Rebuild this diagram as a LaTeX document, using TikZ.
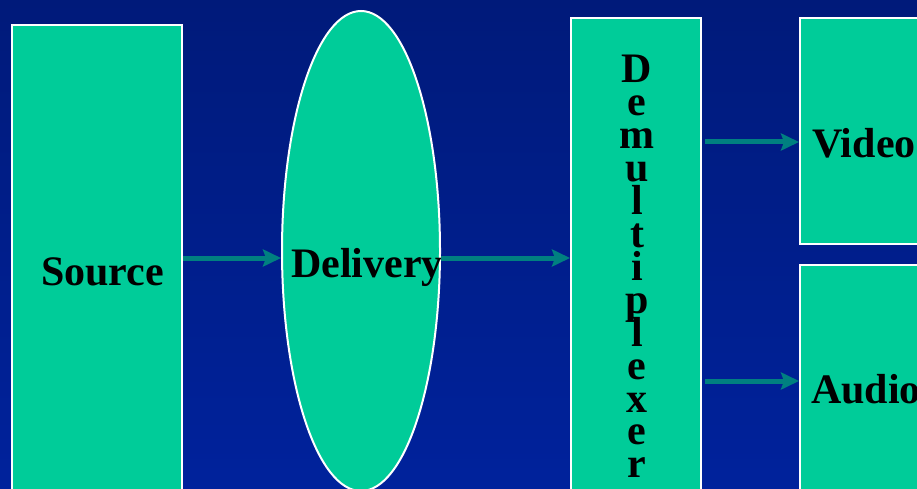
\documentclass[tikz,border=0pt]{standalone}
\usepackage{fontspec}
\setmainfont{Liberation Serif}
\usetikzlibrary{shapes.geometric,arrows.meta}
\definecolor{bgtop}{HTML}{001A7A}
\definecolor{bgbot}{HTML}{00229C}
\definecolor{boxgreen}{HTML}{00CC99}
\definecolor{arrteal}{HTML}{008080}
\tikzset{
  blockbox/.style={draw=white, line width=2pt, fill=boxgreen, rectangle, inner sep=0pt},
  lbl/.style={font=\fontsize{42}{33}\selectfont\bfseries, text=black, inner sep=0pt, anchor=base west},
  vlet/.style={font=\fontsize{42}{33}\selectfont\bfseries, text=black, inner sep=0pt, anchor=base},
  arr/.style={draw=arrteal, line width=5pt, -{Stealth[length=18pt,width=17pt,inset=3pt]}}
}
\begin{document}
\begin{tikzpicture}[x=1pt,y=-1pt]
\useasboundingbox (0,0) rectangle (917,489);
\clip (0,0) rectangle (917,489);
\shade[top color=bgtop, bottom color=bgbot] (0,0) rectangle (917,489);
% blocks
\node[blockbox, minimum width=170pt, minimum height=515pt] (src) at (97,282.5) {};
\node[draw=white, line width=2pt, fill=boxgreen, ellipse, inner sep=0pt, minimum width=158pt, minimum height=480pt] (del) at (361,251) {};
\node[blockbox, minimum width=130pt, minimum height=502pt] (dmx) at (636,269) {};
\node[blockbox, minimum width=140pt, minimum height=226pt] (vid) at (870,131) {};
\node[blockbox, minimum width=140pt, minimum height=255pt] (aud) at (870,392.5) {};
% labels
\node[lbl] (srct) at (41,285) {Source};
\node[lbl] (delt) at (291,277) {Delivery};
\node[lbl] (vidt) at (812,158) {Video};
\node[lbl] (audt) at (811,403) {Audio};
\foreach \ch [count=\i from 0] in {D,e,m,u,l,t,i,p,l,e,x,e,r}{
  \node[vlet] (dm\i) at (637,{83+\i*32.9}) {\ch};
}
% arrows
\draw[arr] (src.east |- 0,258) -- (del.west |- 0,258);
\draw[arr] (del.east |- 0,258) -- (dmx.west |- 0,258);
\draw[arr] ([xshift=3pt]dmx.east |- 0,142) -- (vid.west |- 0,142);
\draw[arr] ([xshift=3pt]dmx.east |- 0,381) -- (aud.west |- 0,381);
\end{tikzpicture}
\end{document}
